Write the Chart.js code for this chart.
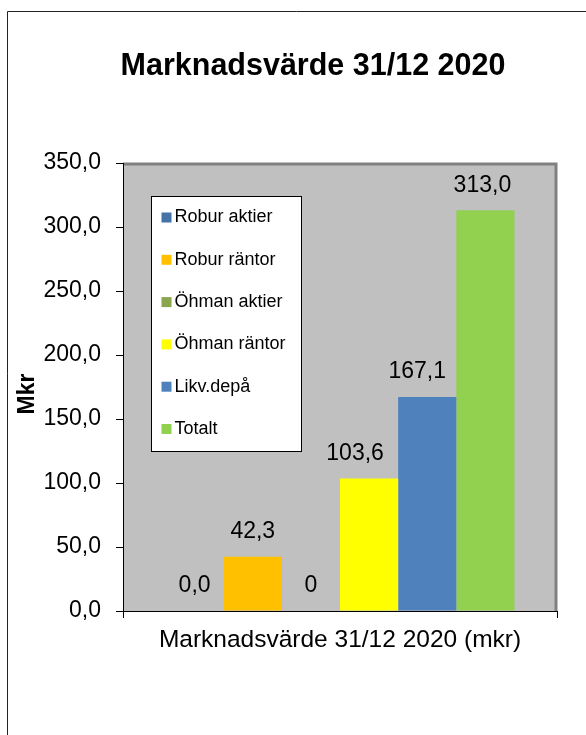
<!DOCTYPE html>
<html>
<head>
<meta charset="utf-8">
<script src="https://cdn.jsdelivr.net/npm/chart.js@4.4.0/dist/chart.umd.min.js"></script>
<style>
  html, body { margin: 0; padding: 0; background: #fff; }
  #wrap { width: 586px; height: 735px; position: relative; }
</style>
</head>
<body>
<div id="wrap"><canvas id="chartValue"></canvas></div>
<script>
// data
const chartTitle = 'Marknadsvärde 31/12 2020';
const yTitle = 'Mkr';
const categories = ['Marknadsvärde 31/12 2020 (mkr)'];
const seriesNames = ['Robur aktier', 'Robur räntor', 'Öhman aktier', 'Öhman räntor', 'Likv.depå', 'Totalt'];
const seriesValues = [0.0, 42.3, 0, 103.6, 167.1, 313.0];
const valueLabels = ['0,0', '42,3', '0', '103,6', '167,1', '313,0'];
const seriesColors = ['#4572A7', '#FFC000', '#89A54E', '#FFFF00', '#4F81BD', '#92D050'];
const yTicks = [0, 50, 100, 150, 200, 250, 300, 350];

const FONT = 'Liberation Sans, Arial, Helvetica, sans-serif';

// grey plot area, page frame and titles
const backdrop = {
  id: 'backdrop',
  beforeDraw(chart) {
    const c = chart.ctx, a = chart.chartArea;
    c.save();
    c.strokeStyle = '#222';
    c.lineWidth = 1;
    c.beginPath();
    c.moveTo(7.5, 735);
    c.lineTo(7.5, 11.5);
    c.lineTo(586, 11.5);
    c.stroke();

    c.fillStyle = '#000';
    c.font = 'bold 30.5px ' + FONT;
    c.textAlign = 'center';
    c.textBaseline = 'middle';
    c.fillText(chartTitle, 313, 67);

    // y axis title, a bit below the plot centre like the original
    c.save();
    c.translate(28, (a.top + a.bottom) / 2 + 7);
    c.rotate(-Math.PI / 2);
    c.font = 'bold 23px ' + FONT;
    c.fillText(yTitle, 0, 0);
    c.restore();

    c.fillStyle = '#C0C0C0';
    c.fillRect(a.left, a.top, a.right - a.left, a.bottom - a.top);
    c.strokeStyle = '#808080';
    c.lineWidth = 3;
    c.beginPath();
    c.moveTo(a.left, a.top + 1);
    c.lineTo(a.right - 1, a.top + 1);
    c.lineTo(a.right - 1, a.bottom);
    c.stroke();
    c.restore();
  }
};

// value labels above bars (two nudged left as in the original)
const barLabels = {
  id: 'barLabels',
  afterDatasetsDraw(chart) {
    const c = chart.ctx;
    const nudge = { 3: -14, 4: -10, 5: -3 };
    c.save();
    c.font = '23px ' + FONT;
    c.fillStyle = '#000';
    c.textAlign = 'center';
    c.textBaseline = 'middle';
    chart.data.datasets.forEach((ds, i) => {
      const bar = chart.getDatasetMeta(i).data[0];
      c.fillText(valueLabels[i], bar.x + (nudge[i] || 0), bar.y - 25);
    });
    c.restore();
  }
};

// legend box inside plot
const boxLegend = {
  id: 'boxLegend',
  afterDraw(chart) {
    const c = chart.ctx, a = chart.chartArea;
    const x = a.left + 28.5, y = a.top + 33.5, w = 150, h = 255;
    c.save();
    c.fillStyle = '#fff';
    c.fillRect(x, y, w, h);
    c.strokeStyle = '#000';
    c.lineWidth = 1;
    c.strokeRect(x, y, w, h);
    c.font = '18px ' + FONT;
    c.textBaseline = 'middle';
    chart.data.datasets.forEach((ds, i) => {
      const cy = y + 21 + i * 42.3;
      c.fillStyle = ds.backgroundColor;
      c.fillRect(x + 10, cy - 5, 10, 10);
      c.fillStyle = '#000';
      c.fillText(ds.label, x + 23, cy);
    });
    c.restore();
  }
};

const ctx_value = document.getElementById('chartValue');

new Chart(ctx_value, {
  type: 'bar',
  data: {
    labels: categories,
    datasets: seriesNames.map((name, i) => ({
      label: name,
      data: [seriesValues[i]],
      backgroundColor: seriesColors[i],
      borderWidth: 0,
      categoryPercentage: 0.804,
      barPercentage: 1.0
    }))
  },
  options: {
    responsive: true,
    maintainAspectRatio: false,
    animation: false,
    layout: {
      padding: { left: 0, right: 29, top: 163, bottom: 0 }
    },
    scales: {
      x: {
        grid: { display: true, drawOnChartArea: false, tickLength: 7, color: '#000', offset: true },
        border: { color: '#000', width: 1 },
        ticks: { display: false },
        title: {
          display: true,
          text: categories[0],
          color: '#000',
          font: { family: FONT, size: 24.5 },
          padding: { top: 10, bottom: 80 }
        },
        afterFit(scale) { scale.height = 735 - 611; }
      },
      y: {
        min: 0,
        max: 350,
        afterBuildTicks(scale) { scale.ticks = yTicks.map(v => ({ value: v })); },
        grid: { display: true, drawOnChartArea: false, tickLength: 7, color: '#000' },
        border: { color: '#000', width: 1 },
        ticks: {
          color: '#000',
          padding: 15,
          font: { family: FONT, size: 23 },
          callback: v => v.toFixed(1).replace('.', ',')
        },
        title: { display: false },
        afterFit(scale) { scale.width = 123; }
      }
    },
    plugins: {
      legend: { display: false },
      tooltip: { enabled: false },
      title: { display: false }
    }
  },
  plugins: [backdrop, barLabels, boxLegend]
});
</script>
</body>
</html>
